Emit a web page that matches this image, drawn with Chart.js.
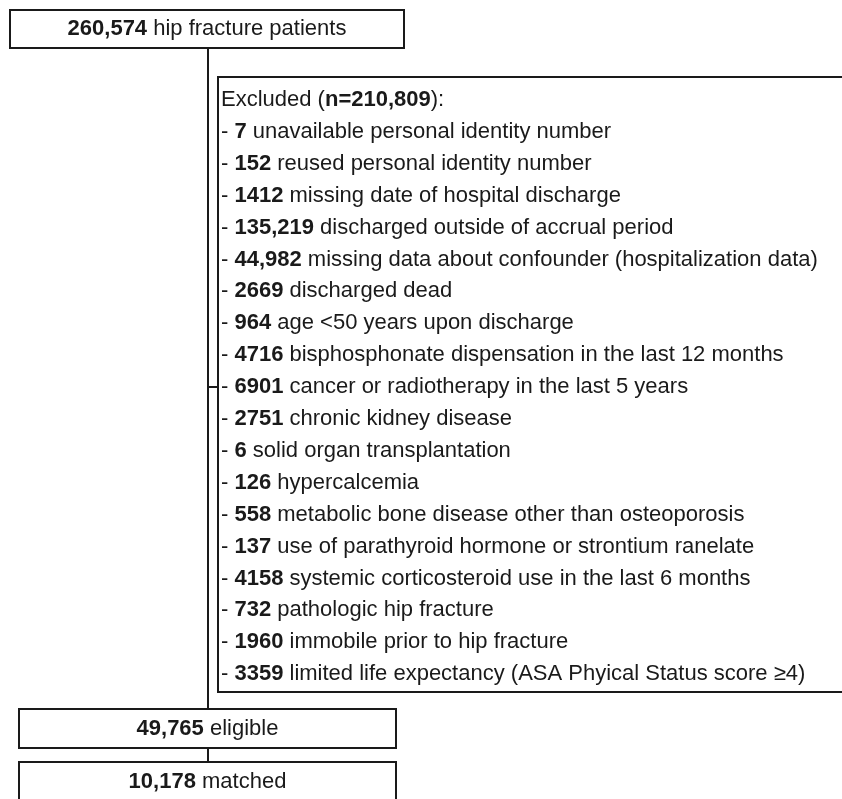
<!DOCTYPE html>
<html>
<head>
<meta charset="utf-8">
<script src="https://cdn.jsdelivr.net/npm/chart.js@4/dist/chart.umd.min.js"></script>
<style>
  html, body { margin: 0; padding: 0; background: #fff; }
  #flow { display: block; }
</style>
</head>
<body>
<canvas id="flow" width="842" height="799"></canvas>
<script>
// flow numbers
const flowCounts = [260574, 49765, 10178];
const flowLabels = ["hip fracture patients", "eligible", "matched"];
const excludedTotal = 210809;

// exclusion reasons
const exclusionCounts = [7, 152, 1412, 135219, 44982, 2669, 964, 4716, 6901, 2751, 6, 126, 558, 137, 4158, 732, 1960, 3359];
const exclusionReasons = [
    "unavailable personal identity number",
    "reused personal identity number",
    "missing date of hospital discharge",
    "discharged outside of accrual period",
    "missing data about confounder (hospitalization data)",
    "discharged dead",
    "age <50 years upon discharge",
    "bisphosphonate dispensation in the last 12 months",
    "cancer or radiotherapy in the last 5 years",
    "chronic kidney disease",
    "solid organ transplantation",
    "hypercalcemia",
    "metabolic bone disease other than osteoporosis",
    "use of parathyroid hormone or strontium ranelate",
    "systemic corticosteroid use in the last 6 months",
    "pathologic hip fracture",
    "immobile prior to hip fracture",
    "limited life expectancy (ASA Phyical Status score \u22654)"
];

// layout (in scale units, same as pixels here)
const boxes = [
    { x0: 10, x1: 404, y0: 10, y1: 48 },
    { x0: 19, x1: 396, y0: 709, y1: 748 },
    { x0: 19, x1: 396, y0: 762, y1: 802 }
];
const exclBox = { x0: 218, x1: 846, y0: 77, y1: 692 };
const spineX = 208;
const headerY = 100;
const lineStep = 31.9;
const linkIndex = 8;   // connector points at this row
const textX = 221;

const FONT = '"Liberation Sans", Arial, Helvetica, sans-serif';
const SIZE = 22;
const INK = "#1a1a1a";

function fmt(n) {
    return n >= 10000 ? n.toLocaleString("en-US") : String(n);
}

function drawRuns(ctx, runs, x, y, align) {
    let total = 0;
    runs.forEach(r => {
        ctx.font = (r.bold ? "bold " : "") + SIZE + "px " + FONT;
        r.w = ctx.measureText(r.text).width;
        total += r.w;
    });
    let cx = align === "center" ? x - total / 2 : x;
    runs.forEach(r => {
        ctx.font = (r.bold ? "bold " : "") + SIZE + "px " + FONT;
        ctx.fillText(r.text, cx, y);
        cx += r.w;
    });
}

const flowPlugin = {
    id: "flowPlugin",
    afterDraw(chart) {
        const ctx = chart.ctx;
        const xs = chart.scales.x, ys = chart.scales.y;
        const X = v => xs.getPixelForValue(v);
        const Y = v => ys.getPixelForValue(v);

        ctx.save();
        ctx.strokeStyle = INK;
        ctx.fillStyle = INK;
        ctx.lineWidth = 2;
        ctx.textBaseline = "middle";
        ctx.textAlign = "left";

        // spine and connectors
        ctx.beginPath();
        ctx.moveTo(X(spineX), Y(boxes[0].y1));
        ctx.lineTo(X(spineX), Y(boxes[1].y0));
        ctx.moveTo(X(spineX), Y(boxes[1].y1));
        ctx.lineTo(X(spineX), Y(boxes[2].y0));
        const linkY = headerY + lineStep * (linkIndex + 1);
        ctx.moveTo(X(spineX), Y(linkY));
        ctx.lineTo(X(exclBox.x0), Y(linkY));
        ctx.stroke();

        // main boxes
        boxes.forEach((b, i) => {
            ctx.strokeRect(X(b.x0), Y(b.y0), X(b.x1) - X(b.x0), Y(b.y1) - Y(b.y0));
            drawRuns(ctx, [
                { text: fmt(flowCounts[i]), bold: true },
                { text: " " + flowLabels[i], bold: false }
            ], X((b.x0 + b.x1) / 2), Y((b.y0 + b.y1) / 2), "center");
        });

        // exclusion box
        ctx.strokeRect(X(exclBox.x0), Y(exclBox.y0), X(exclBox.x1) - X(exclBox.x0), Y(exclBox.y1) - Y(exclBox.y0));
        drawRuns(ctx, [
            { text: "Excluded (", bold: false },
            { text: "n=" + fmt(excludedTotal), bold: true },
            { text: "):", bold: false }
        ], X(textX), Y(headerY), "left");
        exclusionCounts.forEach((c, i) => {
            drawRuns(ctx, [
                { text: "- ", bold: false },
                { text: fmt(c), bold: true },
                { text: " " + exclusionReasons[i], bold: false }
            ], X(textX), Y(headerY + lineStep * (i + 1)), "left");
        });
        ctx.restore();
    }
};

document.addEventListener("DOMContentLoaded", function () {
    const ctx = document.getElementById("flow").getContext("2d");
    new Chart(ctx, {
        type: "scatter",
        data: { datasets: [{ data: [] }] },
        options: {
            responsive: false,
            animation: false,
            layout: { padding: 0 },
            plugins: {
                legend: { display: false },
                tooltip: { enabled: false }
            },
            scales: {
                x: { type: "linear", min: 0, max: 842, display: false },
                y: { type: "linear", min: 0, max: 799, reverse: true, display: false }
            }
        },
        plugins: [flowPlugin]
    });
});
</script>
</body>
</html>
